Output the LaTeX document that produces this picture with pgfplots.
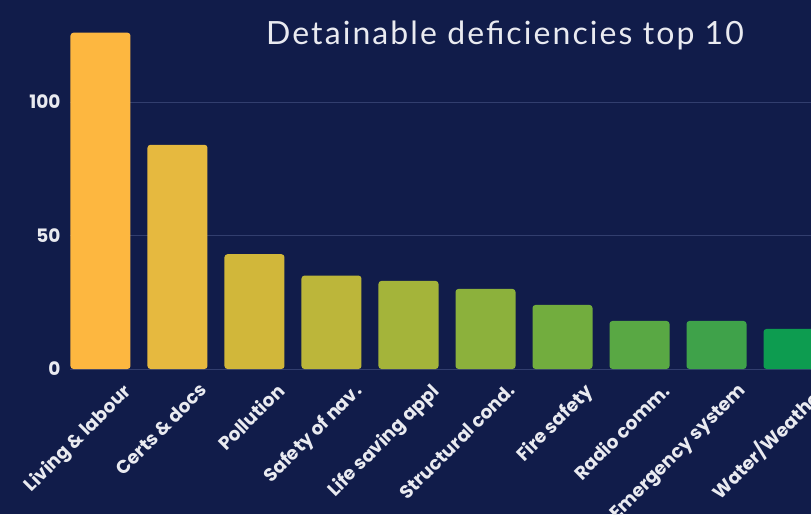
\documentclass[border=0pt]{standalone}
\usepackage{fontspec}
\setmainfont{Poppins}
\newfontfamily\titlefont{Lato}[LetterSpace=6.5]
\usepackage{pgfplots}
\pgfplotsset{compat=1.18}
\definecolor{bg}{HTML}{111C4A}
\definecolor{gridc}{HTML}{323E6E}
\definecolor{txt}{HTML}{E9EAF0}
\definecolor{c1}{HTML}{FDB740}
\definecolor{c2}{HTML}{E6B93F}
\definecolor{c3}{HTML}{D1B73A}
\definecolor{c4}{HTML}{BCB63A}
\definecolor{c5}{HTML}{A4B43A}
\definecolor{c6}{HTML}{8CB13C}
\definecolor{c7}{HTML}{72AD3E}
\definecolor{c8}{HTML}{59A844}
\definecolor{c9}{HTML}{3FA24A}
\definecolor{c10}{HTML}{0D9C50}
\begin{document}
\begin{tikzpicture}
\useasboundingbox (0pt,0pt) rectangle (811pt,514pt);
\fill[bg] (0pt,0pt) rectangle (811pt,514pt);
\begin{scope}
\clip (0pt,0pt) rectangle (811pt,514pt);
\begin{axis}[
  at={(70pt,145pt)}, anchor=south west,
  scale only axis, width=800.5pt, height=347pt,
  xmin=-0.396, xmax=10, ymin=0, ymax=130,
  axis line style={draw=none}, clip=false,
  ybar, bar width=60pt, bar shift=0pt,
  xtick={0,...,9},
  xticklabels={Living \& labour, Certs \& docs, Pollution, Safety of nav., Life saving appl, Structural cond., Fire safety, Radio comm., Emergency system, Water/Weather},
  ytick={0,50,100},
  ymajorgrids, grid style={gridc, line width=1pt},
  major tick length=0pt,
  /pgf/number format/assume math mode=true,
  tick label style={font=\fontsize{18.5}{22}\selectfont\bfseries, text=txt},
  xticklabel style={xshift=21pt, yshift=-8pt, rotate=45, anchor=north east},
  yticklabel style={anchor=east, xshift=-6pt},
]
\addplot[fill=c1, draw=none, rounded corners=3pt] coordinates {(0,126)};
\addplot[fill=c2, draw=none, rounded corners=3pt] coordinates {(1,84)};
\addplot[fill=c3, draw=none, rounded corners=3pt] coordinates {(2,43)};
\addplot[fill=c4, draw=none, rounded corners=3pt] coordinates {(3,35)};
\addplot[fill=c5, draw=none, rounded corners=3pt] coordinates {(4,33)};
\addplot[fill=c6, draw=none, rounded corners=3pt] coordinates {(5,30)};
\addplot[fill=c7, draw=none, rounded corners=3pt] coordinates {(6,24)};
\addplot[fill=c8, draw=none, rounded corners=3pt] coordinates {(7,18)};
\addplot[fill=c9, draw=none, rounded corners=3pt] coordinates {(8,18)};
\addplot[fill=c10, draw=none, rounded corners=3pt] coordinates {(9,15)};
\end{axis}
\end{scope}
\node[anchor=base, text=txt, font=\titlefont\fontsize{32}{38}\selectfont] at (505pt,469pt) {Detainable deficiencies top 10};
\end{tikzpicture}
\end{document}
